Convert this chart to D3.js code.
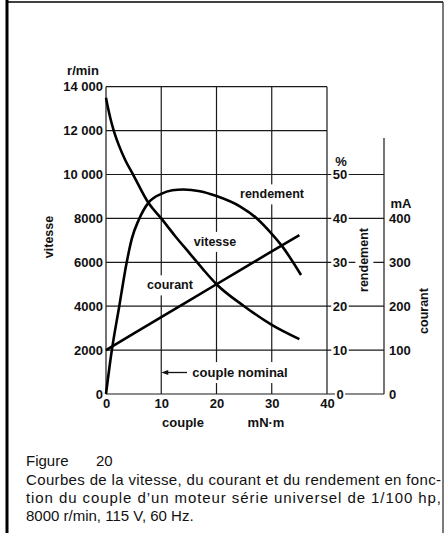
<!DOCTYPE html>
<html>
<head>
<meta charset="utf-8">
<script src="https://cdn.jsdelivr.net/npm/d3@7"></script>
<style>
body { margin: 0; background: #fff; }
svg text { font-family: "Liberation Sans", Arial, Helvetica, sans-serif; fill: #111; }
</style>
</head>
<body>
<div id="chart"></div>
<script>
// ticks
const coupleTicks = [0, 10, 20, 30, 40];
const vitesseTicks = [0, 2000, 4000, 6000, 8000, 10000, 12000, 14000];
const vitesseTickLabels = ["0", "2000", "4000", "6000", "8000", "10 000", "12 000", "14 000"];
const rendementTicks = [0, 10, 20, 30, 40, 50];
const courantTicks = [0, 100, 200, 300, 400];

// curves (couple in mN·m)
const vitesseCouple = [0, 0.35, 0.8, 1.4, 2.3, 3.5, 5.0, 7.7, 10, 12.5, 15, 17.5, 20, 25, 30, 35];
const vitesseValues = [13500, 13050, 12550, 12000, 11350, 10650, 9950, 8700, 8000, 7200, 6450, 5700, 5000, 4000, 3150, 2500];
const rendementCouple = [0, 1, 2.4, 3.75, 4.7, 5.9, 7.7, 10, 12, 14, 17, 20, 24.3, 27.3, 30, 31.8, 35.3];
const rendementValues = [0, 9.5, 20, 30, 35.5, 39.6, 43.6, 45.6, 46.4, 46.6, 46.2, 45.1, 42.7, 40, 36.5, 33.8, 27.1];
const courantCouple = [0, 10, 20, 30, 35];
const courantValues = [100, 175, 250, 325, 362];

const captionLines = [
    "Courbes de la vitesse, du courant et du rendement en fonc-",
    "tion du couple d\u2019un moteur s\u00e9rie universel de 1/100 hp,",
    "8000 r/min, 115 V, 60 Hz."
];

const width = 445,
    height = 533,
    padLeft = 106,
    padRight = 327,
    padTop = 86.7,
    padBottom = 394,
    axis2 = 384;

const svg = d3
    .select("#chart")
    .append("svg")
    .attr("width", width)
    .attr("height", height);

svg.append("rect").attr("width", width).attr("height", height).attr("fill", "#fff");

const x = d3.scaleLinear().domain([0, 40]).range([padLeft, padRight]);
const yV = d3.scaleLinear().domain([0, 14000]).range([padBottom, padTop]);
const yR = d3.scaleLinear().domain([0, 70]).range([padBottom, padTop]);
const yC = d3.scaleLinear().domain([0, 700]).range([padBottom, padTop]);

// frame
svg.append("line").attr("x1", 7).attr("x2", 7).attr("y1", 0).attr("y2", height)
    .attr("stroke", "#000").attr("stroke-width", 3);
svg.append("line").attr("x1", 6).attr("x2", 443).attr("y1", 2).attr("y2", 2)
    .attr("stroke", "#000").attr("stroke-width", 1.5);
svg.append("line").attr("x1", 443).attr("x2", 443).attr("y1", 2).attr("y2", height)
    .attr("stroke", "#222").attr("stroke-width", 1.2);

// grid
const grid = svg.append("g").attr("stroke", "#1a1a1a").attr("stroke-width", 1.2);
grid.selectAll(".v")
    .data(coupleTicks)
    .enter()
    .append("line")
    .attr("x1", (d) => x(d)).attr("x2", (d) => x(d))
    .attr("y1", padTop).attr("y2", padBottom);
grid.selectAll(".h")
    .data(vitesseTicks)
    .enter()
    .append("line")
    .attr("x1", padLeft).attr("x2", padRight)
    .attr("y1", (d) => yV(d)).attr("y2", (d) => yV(d));
// right-hand lines running across to the mA axis
grid.selectAll(".r")
    .data(rendementTicks)
    .enter()
    .append("line")
    .attr("x1", padRight).attr("x2", axis2)
    .attr("y1", (d) => yR(d)).attr("y2", (d) => yR(d));
grid.append("line")
    .attr("x1", axis2).attr("x2", axis2)
    .attr("y1", 138).attr("y2", padBottom);

const labels = svg.append("g").attr("font-weight", "bold");

function label(txt, cx, cy, size, rotate, pad) {
    const g = labels.append("g").attr("transform", "translate(" + cx + "," + cy + ")" + (rotate ? " rotate(-90)" : ""));
    const bg = g.append("rect").attr("fill", "#fff");
    const t = g.append("text")
        .attr("text-anchor", "middle")
        .attr("dy", "0.35em")
        .attr("font-size", size)
        .text(txt);
    if (pad !== undefined) {
        const b = t.node().getBBox();
        bg.attr("x", b.x - pad).attr("y", b.y - pad)
            .attr("width", b.width + 2 * pad).attr("height", b.height + 2 * pad);
    }
    return t;
}

// left axis
const yAxis = d3.axisLeft(yV)
    .tickValues(vitesseTicks)
    .tickFormat((d, i) => vitesseTickLabels[i])
    .tickSize(0)
    .tickPadding(3);
svg.append("g")
    .attr("transform", "translate(" + padLeft + ",0)")
    .call(yAxis)
    .call((g) => g.select(".domain").remove())
    .selectAll("text")
    .attr("font-size", 13)
    .attr("font-weight", "bold")
    .attr("font-family", null);

// bottom axis
const xAxis = d3.axisBottom(x).tickValues(coupleTicks).tickSize(0).tickPadding(5);
svg.append("g")
    .attr("transform", "translate(0," + padBottom + ")")
    .call(xAxis)
    .call((g) => g.select(".domain").remove())
    .selectAll("text")
    .attr("font-size", 13)
    .attr("font-weight", "bold")
    .attr("font-family", null);

// rendement axis (%)
rendementTicks.forEach((d) => label(d, 340, yR(d), 13, false, 1.5));

// courant axis (mA)
const cAxis = d3.axisRight(yC).tickValues(courantTicks).tickSize(0).tickPadding(5);
svg.append("g")
    .attr("transform", "translate(" + axis2 + ",0)")
    .call(cAxis)
    .call((g) => g.select(".domain").remove())
    .selectAll("text")
    .attr("font-size", 13)
    .attr("font-weight", "bold")
    .attr("font-family", null);

// axis titles and units
label("r/min", 83, 70, 13);
label("%", 341, 161, 13);
label("mA", 401, 203, 13);
label("vitesse", 49, 237, 12.5, true);
label("rendement", 364, 260, 12.5, true, 2);
label("courant", 424, 311, 12.5, true);
label("couple", 183, 422, 13);
label("mN\u00b7m", 266, 422, 13);

// in-chart labels
label("rendement", 272, 194, 12.5, false, 3);
label("vitesse", 215, 241.5, 12.5, false, 3);
label("courant", 170, 285, 12.5, false, 3);
label("couple nominal", 240, 372.5, 13, false, 3);

// arrow to couple nominal
svg.append("line")
    .attr("x1", 187).attr("x2", 167)
    .attr("y1", 372.5).attr("y2", 372.5)
    .attr("stroke", "#111").attr("stroke-width", 1.3);
svg.append("path")
    .attr("d", "M" + x(10) + ",372.5 l7,-2.5 l0,5 z")
    .attr("fill", "#111");

// curves
const line = d3.line().curve(d3.curveMonotoneX);
const curves = svg.append("g").attr("fill", "none").attr("stroke", "#000").attr("stroke-width", 2.6);
curves.append("path")
    .attr("d", line(vitesseCouple.map((c, i) => [x(c), yV(vitesseValues[i])])));
curves.append("path")
    .attr("d", line(rendementCouple.map((c, i) => [x(c), yR(rendementValues[i])])));
curves.append("path")
    .attr("d", line(courantCouple.map((c, i) => [x(c), yC(courantValues[i])])));

// caption
const caption = svg.append("g").attr("font-size", 15);
caption.append("text").attr("x", 26).attr("y", 466).text("Figure");
caption.append("text").attr("x", 96).attr("y", 466).text("20");
caption.selectAll(".cap")
    .data(captionLines)
    .enter()
    .append("text")
    .attr("x", 26)
    .attr("y", (d, i) => 485 + i * 18)
    .attr("textLength", (d, i) => (i < 2 ? 415 : null))
    .attr("lengthAdjust", "spacing")
    .text((d) => d);
</script>
</body>
</html>
